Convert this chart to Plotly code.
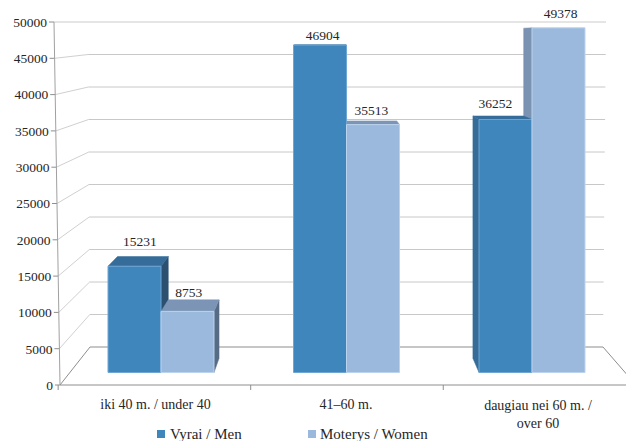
import plotly.graph_objects as go

# ---- data ----
categories = ["iki 40 m. / under 40", "41–60 m.", "daugiau nei 60 m. /<br>over 60"]
men_name = "Vyrai / Men"
women_name = "Moterys / Women"
men = [15231, 46904, 36252]
women = [8753, 35513, 49378]
y_ticks = [0, 5000, 10000, 15000, 20000, 25000, 30000, 35000, 40000, 45000, 50000]

# ---- style / geometry (pixel constants of the drawing) ----
W, H = 626, 441
CAT_PX, X0_PX = 185.5, 161.0     # px per category, px of category 0
VAL_PX, Y0_PX = 0.00698, 372.5   # px per unit at the plane of the bar fronts
BAR_W = 53 / CAT_PX
VP_PX = (334.0, 36.0)            # vanishing point
BAR_DEPTH_K = 0.958              # scale of the rear edge of a bar

MEN_C = dict(front="#3f86bd", top="#356c9a", side_r="#2b5070", side_l="#356c98", line="#6ea6d4")
WOM_C = dict(front="#9bb9dc", top="#7c95b6", side_r="#566b84", side_l="#7b93b3", line="#bcd3ee")
GRID = "#c8c8c8"
AXIS = "#8e8e8e"
TEXT = "#262626"
FONT = "Liberation Serif"


def dx(px):
    return (px - X0_PX) / CAT_PX


def dy(px):
    return (Y0_PX - px) / VAL_PX


XV, YV = dx(VP_PX[0]), dy(VP_PX[1])


def rear(x, v):
    """Project a point on the front plane of the bars to their rear plane."""
    return XV + BAR_DEPTH_K * (x - XV), YV + BAR_DEPTH_K * (v - YV)


def wall_front(v):
    t = v / max(y_ticks)
    return dx(60 - 6 * t), dy(385 - 7.26 * v / 1000)


def wall_back_left(v):
    t = v / max(y_ticks)
    return dx(90 - 2 * t), dy(347 - 6.5 * v / 1000)


def wall_back_right(v):
    t = v / max(y_ticks)
    return dx(603 + 3 * t), dy(347 - 6.5 * v / 1000)


def line(p, q, color, width=1):
    return dict(type="line", xref="x", yref="y", layer="below",
                x0=p[0], y0=p[1], x1=q[0], y1=q[1],
                line=dict(color=color, width=width))


def poly(points, color):
    d = "M " + " L ".join(f"{a},{b}" for a, b in points) + " Z"
    return dict(type="path", xref="x", yref="y", layer="below", path=d,
                fillcolor=color, line=dict(color=color, width=0.5))


shapes = []
# walls and grid
for v in y_ticks:
    f, bl, br = wall_front(v), wall_back_left(v), wall_back_right(v)
    col = AXIS if v == 0 else GRID
    if v == max(y_ticks):
        shapes.append(line(f, br, "#dcdcdc", 1.5))
    else:
        shapes.append(line(f, bl, AXIS if v == 0 else "#d0d0d0"))
        shapes.append(line(bl, br, col))
    # tick on the value axis
    shapes.append(line((f[0] - 5 / CAT_PX, f[1]), f, AXIS))

f0, br0 = wall_front(0), wall_back_right(0)
shapes.append(line(f0, wall_front(max(y_ticks)), "#a0a0a0"))
# floor: right edge and front edge (run past the picture's right side and clip)
shapes.append(line(br0, (br0[0] + 33 / CAT_PX, f0[1]), AXIS))
shapes.append(line(f0, (dx(W + 5), f0[1]), AXIS))
for c in range(len(categories)):
    tx = XV + (c - 0.5 - XV) * 1.038
    shapes.append(line((tx, f0[1]), (tx, f0[1] - 5 / VAL_PX), AXIS))

# depth faces of the bars, painted from the farthest from the vanishing point inwards
bars = []
for i in range(len(categories)):
    bars.append((i - BAR_W, i, men[i], MEN_C))
    bars.append((i, i + BAR_W, women[i], WOM_C))
bars.sort(key=lambda b: -abs((b[0] + b[1]) / 2 - XV))
for x0, x1, v, col in bars:
    if x1 < XV:
        shapes.append(poly([(x1, 0), rear(x1, 0), rear(x1, v), (x1, v)], col["side_r"]))
    elif x0 > XV:
        shapes.append(poly([(x0, 0), rear(x0, 0), rear(x0, v), (x0, v)], col["side_l"]))
    if v < YV:
        shapes.append(poly([(x0, v), (x1, v), rear(x1, v), rear(x0, v)], col["top"]))

fig = go.Figure()
xs = list(range(len(categories)))
fig.add_bar(x=xs, y=men, width=BAR_W, offset=-BAR_W, name=men_name, showlegend=False,
            marker=dict(color=MEN_C["front"], line=dict(color=MEN_C["line"], width=1)))
fig.add_bar(x=xs, y=women, width=BAR_W, offset=0, name=women_name, showlegend=False,
            marker=dict(color=WOM_C["front"], line=dict(color=WOM_C["line"], width=1)))


def text_trace(x, y, text, pos="middle center", size=13):
    fig.add_scatter(x=x, y=y, text=text, mode="text", textposition=pos, showlegend=False,
                    hoverinfo="skip", cliponaxis=False,
                    textfont=dict(family=FONT, size=size, color=TEXT))


# value labels: rear-top centre of each bar plus a small nudge (px)
men_nudge = [(-3, -14), (2, -8), (-3, -11)]
wom_nudge = [(-5, -6), (0, -9), (2, -13)]
lx, ly, lt = [], [], []
for i in xs:
    for x_c, v, (nx, ny) in ((i - BAR_W / 2, men[i], men_nudge[i]), (i + BAR_W / 2, women[i], wom_nudge[i])):
        rx, ry = rear(x_c, v) if v < YV else (x_c, v)
        lx.append(rx + nx / CAT_PX)
        ly.append(ry - ny / VAL_PX)
        lt.append(str(v))
text_trace(lx, ly, lt, size=13.5)

# value-axis labels
text_trace([wall_front(v)[0] - 7 / CAT_PX for v in y_ticks],
           [wall_front(v)[1] - 1.5 / VAL_PX for v in y_ticks],
           [str(v) for v in y_ticks], pos="middle left", size=13.5)

# category labels
cat_px = [155.5, 346, 538]
text_trace([dx(p) for p in cat_px[:2]], [dy(405.5)] * 2, categories[:2], size=14)
text_trace([dx(cat_px[2])], [dy(415.5)], categories[2:], size=14)

# legend row
fig.add_scatter(x=[dx(161), dx(312)], y=[dy(434)] * 2, mode="markers", showlegend=False, hoverinfo="skip",
                cliponaxis=False,
                marker=dict(symbol="square", size=8, color=[MEN_C["front"], WOM_C["front"]]))
text_trace([dx(170), dx(320)], [dy(435.5)] * 2, [men_name, women_name], pos="middle right", size=15)

fig.update_layout(
    width=W, height=H, margin=dict(l=0, r=0, t=0, b=0),
    paper_bgcolor="white", plot_bgcolor="white", shapes=shapes,
    xaxis=dict(visible=False, range=[dx(0), dx(W)], fixedrange=True),
    yaxis=dict(visible=False, range=[dy(H), dy(0)], fixedrange=True),
    font=dict(family=FONT, size=13, color=TEXT), showlegend=False,
)
fig.write_html("out.html", post_script="document.body.style.margin='0';", config=dict(displayModeBar=False))
